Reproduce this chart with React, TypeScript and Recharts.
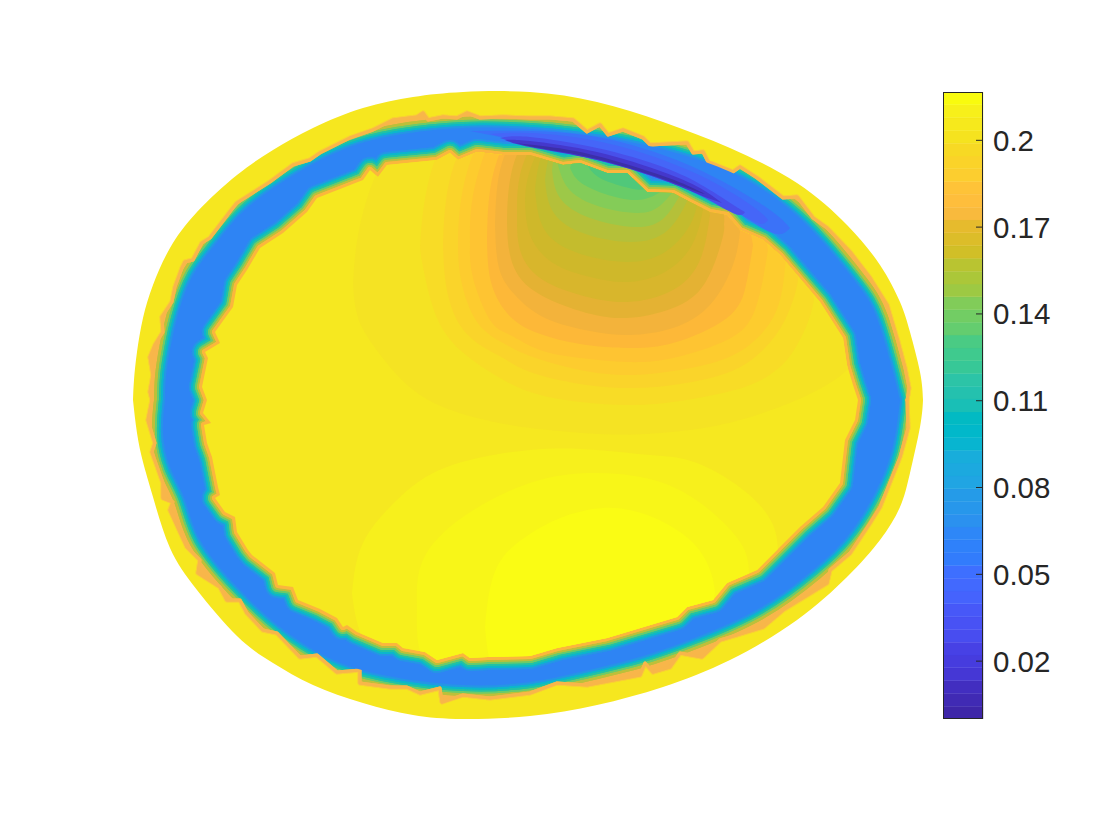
import { Area, Bar, BarChart, ComposedChart, XAxis, YAxis } from 'recharts';

type Pair = [number, number];
type Row = [number, number, number];

const MID = 400;

const outerTop: Pair[] = [[133,400],[134,380],[137,352],[143,318],[153,285],[170,248],[197,212],[237,175],[273,150],[313,128],[363,108],[413,97],[463,92],[530,92],[597,102],[663,122],[730,148],[797,183],[847,225],[880,265],[900,302],[910,332],[920,372],[923,400]];
const outerBottom: Pair[] = [[133,400],[137,433],[143,462],[153,497],[170,548],[197,590],[237,636],[273,663],[313,685],[363,703],[413,715],[463,719],[530,716],[597,705],[663,687],[730,660],[797,620],[847,577],[880,540],[900,507],[910,473],[920,427],[923,400]];

const haloTop: Pair[] = [[152,400],[150,392],[153,375],[150,357],[155,345],[163,332],[162,317],[172,302],[175,287],[182,268],[185,262],[193,260],[202,243],[210,238],[233,208],[237,203],[270,182],[293,165],[310,160],[320,153],[350,138],[373,130],[393,120],[417,117],[423,113],[428,120],[443,117],[457,118],[467,113],[480,118],[503,117],[530,118],[550,118],[573,120],[587,132],[600,125],[608,135],[623,130],[643,138],[650,145],[687,143],[693,153],[703,152],[708,162],[733,172],[740,167],[757,178],[783,198],[797,197],[813,218],[827,228],[850,252],[870,278],[887,305],[898,342],[905,368],[909,388],[907,400]];
const haloBottom: Pair[] = [[152,400],[148,420],[155,443],[152,452],[163,483],[163,498],[173,502],[170,510],[187,547],[200,560],[198,573],[220,587],[227,600],[240,600],[247,613],[263,630],[277,633],[300,657],[317,655],[337,672],[360,670],[360,683],[390,687],[407,687],[420,693],[440,688],[442,702],[463,695],[490,698],[530,693],[557,683],[587,685],[640,675],[645,663],[653,672],[670,667],[680,653],[702,657],[720,640],[763,627],[783,610],[827,583],[830,570],[850,553],[870,523],[880,507],[900,457],[908,428],[907,400]];

const ringTop: Pair[] = [[165,400],[167,368],[177,318],[193,275],[217,242],[247,208],[297,173],[347,148],[397,135],[463,128],[530,129],[573,133],[630,142],[690,157],[743,178],[787,207],[823,242],[858,285],[877,318],[892,368],[900,400]];
const ringBottom: Pair[] = [[165,400],[163,433],[170,467],[185,500],[200,540],[237,587],[280,627],[327,657],[383,675],[463,685],[530,682],[580,672],[640,657],[697,637],[760,608],[813,570],[847,537],[873,497],[892,450],[900,400]];

const innerTop: Pair[] = [[207,400],[202,387],[208,358],[205,352],[220,343],[215,332],[233,307],[237,285],[247,270],[260,248],[283,233],[307,212],[317,198],[363,180],[370,170],[378,177],[387,165],[437,160],[450,153],[458,160],[477,152],[503,155],[530,155],[563,165],[580,163],[607,173],[627,173],[647,192],[673,193],[690,202],[710,212],[727,215],[740,230],[763,240],[780,255],[797,275],[820,302],[843,338],[847,365],[853,385],[858,400]];
const innerBottom: Pair[] = [[207,400],[203,413],[211,423],[204,425],[207,443],[212,457],[218,487],[220,495],[215,498],[225,512],[235,517],[237,532],[248,550],[252,555],[275,573],[278,585],[293,587],[298,600],[320,609],[337,618],[343,627],[347,625],[357,632],[383,643],[397,643],[403,648],[425,652],[437,660],[463,653],[470,658],[488,657],[530,656],[557,648],[607,638],[627,632],[677,617],[687,607],[713,600],[727,583],[757,570],[800,527],[823,507],[840,483],[845,440],[855,420],[858,400]];

const crescentA: Row[] = [[470,131,131],[530,131,143],[597,137,158],[663,155,178],[720,180,202],[770,210,232],[790,228,228]];
const crescentB: Row[] = [[490,134,134],[530,133,143],[597,141,158],[663,160,180],[715,183,200],[755,208,222],[768,220,220]];
const crescentC: Row[] = [[500,138,138],[530,137,146],[597,148,160],[663,167,180],[705,187,198],[735,206,214],[745,212,212]];
const crescentD: Row[] = [[505,140,140],[530,141,147],[597,152,160],[663,172,180],[700,188,195],[722,203,203]];
const crescentE: Row[] = [[515,143,143],[550,147,150],[597,156,159],[663,176,179],[695,189,191],[705,194,194]];
const crescentLayers = [crescentA, crescentB, crescentC, crescentD, crescentE];
const crescentColors = ['#3B72F8', '#4566F8', '#4850EA', '#4438CC', '#3B2FA8'];

// upper field, outermost level first; the parts above the inner edge get clipped away
const upper1: Row[] = [[353,285,285],[358,235,318],[378,170,352],[420,120,395],[477,110,418],[530,110,428],[597,110,434],[647,110,434],[710,120,427],[763,150,413],[797,200,400],[825,260,386],[845,320,372],[853,362,362]];
const upper2: Row[] = [[420,248,248],[424,205,272],[437,155,318],[460,125,350],[490,110,372],[530,110,392],[580,110,402],[627,110,405],[673,110,402],[727,130,392],[763,170,379],[790,220,356],[808,270,322],[814,300,300]];
const upper3: Row[] = [[443,245,245],[446,200,285],[458,155,322],[480,125,345],[503,110,358],[530,110,372],[580,110,384],[627,110,388],[673,110,385],[727,130,373],[763,170,350],[785,220,320],[796,262,290],[798,278,278]];
const upper4: Row[] = [[458,245,245],[461,200,280],[477,145,322],[503,115,343],[530,110,356],[580,110,370],[627,110,375],[673,110,371],[727,130,358],[763,175,332],[780,225,300],[786,258,258]];
const upper5: Row[] = [[470,245,245],[473,195,278],[490,140,320],[510,115,335],[540,110,350],[580,110,358],[627,110,362],[673,110,358],[727,135,340],[755,190,310],[768,250,250]];
const upper6: Row[] = [[487,240,240],[490,190,278],[503,145,308],[530,115,330],[580,110,344],[627,110,348],[673,115,343],[727,150,318],[746,205,285],[753,245,245]];
const upper7: Row[] = [[495,225,225],[499,175,268],[515,135,295],[545,112,318],[590,110,331],[630,110,335],[673,118,328],[710,150,305],[733,200,265],[740,232,232]];
const upper8: Row[] = [[507,222,222],[510,180,255],[530,135,288],[580,112,311],[627,110,318],[673,125,308],[705,165,283],[722,205,240],[724,225,225]];
const upper9: Row[] = [[517,215,215],[520,175,250],[540,135,278],[580,115,295],[627,112,302],[673,130,290],[700,175,260],[710,215,215]];
const upper10: Row[] = [[525,200,200],[530,170,235],[553,130,263],[590,115,277],[627,112,282],[665,125,272],[692,170,245],[703,210,210]];
const upper11: Row[] = [[535,190,190],[542,155,225],[570,125,250],[627,112,262],[668,125,250],[690,170,225],[697,205,205]];
const upper12: Row[] = [[545,180,180],[552,150,210],[580,122,232],[630,112,242],[668,130,230],[690,195,195]];
const upper13: Row[] = [[552,170,170],[560,145,198],[590,120,218],[635,112,227],[665,135,217],[685,185,185]];
const upper14: Row[] = [[558,165,165],[568,145,188],[595,120,205],[637,112,213],[662,135,204],[680,182,182]];
const upper15: Row[] = [[570,168,168],[580,145,182],[605,125,194],[637,115,200],[660,135,192],[672,180,180]];
const upper16: Row[] = [[587,165,165],[600,140,178],[625,125,187],[645,130,189],[662,178,178]];

const lower1: Row[] = [[352,593,593],[363,543,640],[397,500,690],[447,467,690],[530,450,690],[597,450,690],[650,455,690],[697,463,680],[747,493,640],[773,525,590],[778,553,553]];
const lower2: Row[] = [[417,607,607],[423,560,660],[463,517,690],[530,483,695],[597,473,690],[663,483,670],[713,513,630],[743,547,600],[749,575,575]];
const lower3: Row[] = [[485,627,627],[497,567,680],[530,534,690],[563,517,690],[603,508,680],[647,515,660],[690,540,630],[710,570,612],[715,592,592]];

const upperLevels = [upper1, upper2, upper3, upper4, upper5, upper6, upper7, upper8, upper9, upper10, upper11, upper12, upper13, upper14, upper15, upper16];
const upperColors = ['#F5E323', '#F8DC26', '#FAD42A', '#FDCC2E', '#FEC432', '#FDB838', '#F3B33B', '#E4B233', '#D8B62C', '#CFB82A', '#C4BC2D', '#B5C039', '#9DC848', '#84CC58', '#68CC68', '#50C87A'];
const lowerLevels = [lower1, lower2, lower3];
const lowerColors = ['#F7F01C', '#F8F618', '#FAFC14'];

const outerEdgeWidths = [22, 16, 12, 8, 4];
const outerEdgeColors = ['#BCC03A', '#6BCB6A', '#22C2A4', '#0CB6CC', '#2595E6'];
const innerEdgeWidths = [26, 22, 18, 14, 10, 6];
const innerEdgeColors = ['#2595E6', '#0CB6CC', '#22C2A4', '#6BCB6A', '#BCC03A', '#FBB73C'];

const colorbarTicks = [0.02, 0.05, 0.08, 0.11, 0.14, 0.17, 0.2];
const colorbarMax = 0.2167;
const colorbarColors = ['#3E26A8', '#402AB4', '#422EC0', '#4537D5', '#463CDE', '#4741E5', '#484DF0', '#4852F4', '#4758F8', '#4563FD', '#4269FE', '#3E6FFF', '#327CFC', '#2F81FA', '#2E87F7', '#2B91EF', '#2797EB', '#259BE8', '#20A5E3', '#1CA9DF', '#18ADDB', '#08B5D0', '#01B8CA', '#02BAC3', '#19BFB6', '#24C1AE', '#2CC4A7', '#37C897', '#3FCA8E', '#4ACB84', '#64CD6F', '#72CD64', '#81CC59', '#9DC943', '#ABC739', '#B9C431', '#D1BF27', '#DCBD29', '#E6BB2D', '#F8BA3D', '#FEBE3C', '#FEC338', '#FCCE2F', '#FAD329', '#F7D924', '#F5E31F', '#F6E91C', '#F7F01A', '#F9FB0E'];

const half = (edge: Pair[]) => edge.map(([x, y]) => ({ x, band: [y, MID] }));
const strip = (rows: Row[]) => rows.map(([x, top, bottom]) => ({ x, band: [top, bottom] }));
// zero-height band: the stroke follows the edge alone, with no base line back along the middle
const trace = (edge: Pair[]) => edge.map(([x, y]) => ({ x, band: [y, y] }));

function fill(key: string, data: any[], color: string, curve: any = 'linear', clip?: string) {
  return (
    <Area key={key} data={data} dataKey="band" type={curve} stroke="none" fill={color} fillOpacity={1} dot={false} activeDot={false} isAnimationActive={false} clipPath={clip} />
  );
}

function halves(name: string, top: Pair[], bottom: Pair[], color: string, curve: any = 'linear') {
  return [fill(name + '-t', half(top), color, curve), fill(name + '-b', half(bottom), color, curve)];
}

// outline strokes, widest first; the fill drawn after them hides their inner half
function outlines(name: string, top: Pair[], bottom: Pair[], colors: string[], widths: number[], curve: any = 'linear', clip?: string) {
  return colors.flatMap((c, i) =>
    [top, bottom].map((side, s) => (
      <Area key={`${name}-${s}-${i}`} data={trace(side)} dataKey="band" type={curve} stroke={c} strokeWidth={widths[i]} strokeLinejoin="round" strokeLinecap="round" fill="none" dot={false} activeDot={false} isAnimationActive={false} clipPath={clip} />
    )),
  );
}

const outline = (top: Pair[], bottom: Pair[]) => [...top, ...[...bottom].reverse()].map((p) => p.join(',')).join(' ');

export default function App() {
  const colorbarRow: Record<string, number | string> = { name: 'levels' };
  colorbarColors.forEach((_, i) => {
    colorbarRow[`level${i}`] = colorbarMax / colorbarColors.length;
  });

  return (
    <div style={{ position: 'absolute', left: 0, top: 0, width: 1120, height: 840, background: '#fff' }}>
      <div style={{ position: 'absolute', left: 0, top: 0 }}>
        <ComposedChart width={1120} height={840} margin={{ top: 0, right: 0, bottom: 0, left: 0 }}>
          <defs>
            <clipPath id="innerClip">
              <polygon points={outline(innerTop, innerBottom)} />
            </clipPath>
            <clipPath id="haloClip">
              <polygon points={outline(haloTop, haloBottom)} />
            </clipPath>
          </defs>
          <XAxis dataKey="x" type="number" domain={[0, 1120]} hide allowDataOverflow />
          <YAxis type="number" domain={[0, 840]} reversed hide allowDataOverflow width={0} />
          {halves('outer', outerTop, outerBottom, '#F6E71F', 'natural')}
          {outlines('halo-soft', haloTop, haloBottom, ['#F9D035'], [5])}
          {halves('halo', haloTop, haloBottom, '#F8B64A')}
          {outlines('ring-edge', ringTop, ringBottom, outerEdgeColors, outerEdgeWidths, 'natural', 'url(#haloClip)')}
          {outlines('halo-thin', haloTop, haloBottom, ['#F8B64A'], [3])}
          {halves('ring', ringTop, ringBottom, '#2E84F4', 'natural')}
          {outlines('inner-edge', innerTop, innerBottom, innerEdgeColors, innerEdgeWidths)}
          {crescentLayers.map((rows, i) => fill(`crescent${i}`, strip(rows), crescentColors[i], 'natural'))}
          {halves('inner', innerTop, innerBottom, '#F6E820')}
          {upperLevels.map((rows, i) => fill(`upper${i}`, strip(rows), upperColors[i], 'natural', 'url(#innerClip)'))}
          {lowerLevels.map((rows, i) => fill(`lower${i}`, strip(rows), lowerColors[i], 'natural', 'url(#innerClip)'))}
        </ComposedChart>
      </div>
      <div style={{ position: 'absolute', left: 943, top: 92 }}>
        <BarChart width={140} height={627} data={[colorbarRow]} barCategoryGap={0} margin={{ top: 0, right: 0, bottom: 0, left: 0 }}>
          <XAxis dataKey="name" hide />
          <YAxis
            orientation="right"
            width={100}
            type="number"
            domain={[0, colorbarMax]}
            ticks={colorbarTicks}
            tickFormatter={(v: number) => String(v)}
            tickSize={-7}
            tickMargin={17}
            axisLine={false}
            tickLine={{ stroke: '#262626' }}
            tick={{ fill: '#262626', fontSize: 29.5, fontFamily: '"Liberation Sans", Arial, sans-serif' }}
            interval={0}
            allowDataOverflow
          />
          {colorbarColors.map((c, i) => (
            <Bar key={c} dataKey={`level${i}`} stackId="bar" fill={c} stroke={c} strokeWidth={0.4} isAnimationActive={false} />
          ))}
        </BarChart>
      </div>
      <div style={{ position: 'absolute', left: 943, top: 92, width: 40, height: 627, boxSizing: 'border-box', border: '1px solid #262626' }} />
    </div>
  );
}
